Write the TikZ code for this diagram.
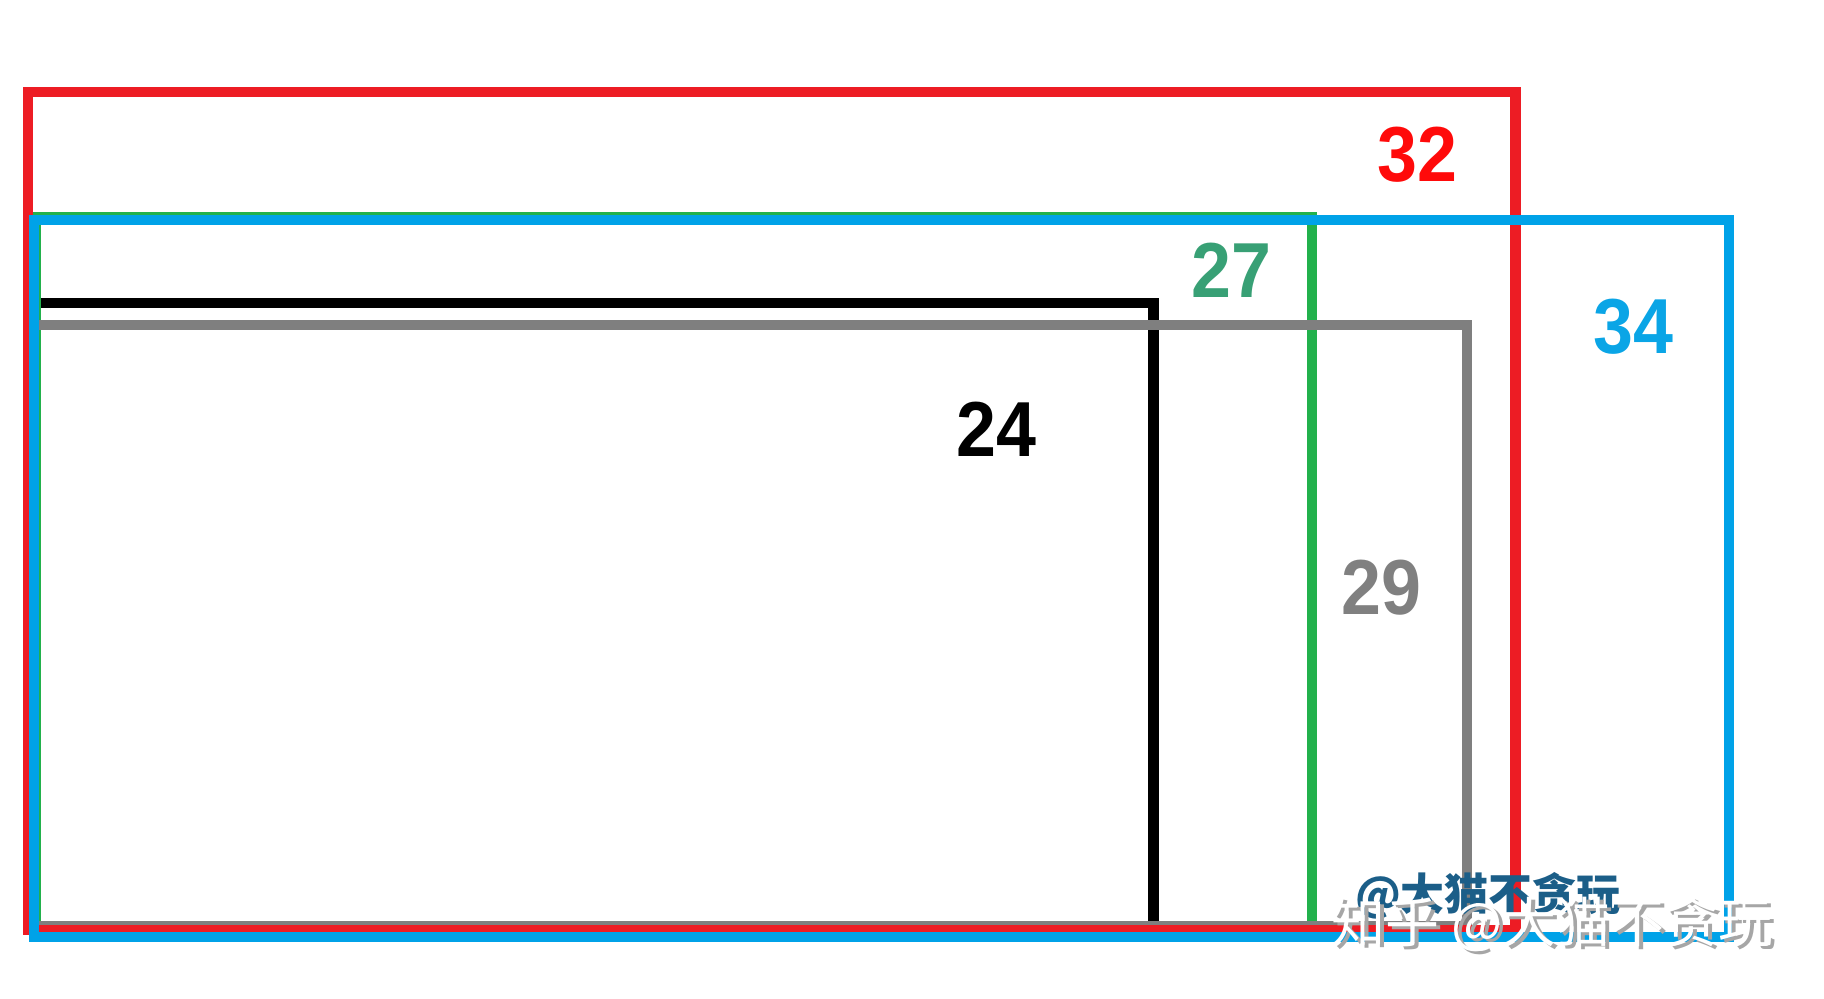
\documentclass[tikz,border=0pt]{standalone}
\usepackage{fontspec}
\setmainfont{Liberation Sans}
\newfontfamily\numfont[FakeStretch=0.92]{Liberation Sans}
\newfontfamily\cjk{Noto Sans CJK SC}
\usetikzlibrary{positioning}

\definecolor{framered}{HTML}{ED1C24}
\definecolor{frameblue}{HTML}{00A2E8}
\definecolor{framegreen}{HTML}{22B14C}
\definecolor{framegray}{HTML}{7F7F7F}
\definecolor{textred}{HTML}{FF0A0A}
\definecolor{textgreen}{HTML}{38A075}
\definecolor{textblue}{HTML}{0AA5E6}
\definecolor{textgray}{HTML}{808080}
\definecolor{markblue}{HTML}{1B5E88}

\begin{document}
\begin{tikzpicture}[
		x=0.5pt, y=-0.5pt,
		frame/.style={
				draw=#1,
				line width=5.25pt,
				line join=miter
			},
		frame/.default=black,
		size/.style={
				text=#1,
				inner sep=0pt,
				font=\numfont\bfseries\fontsize{39}{39}\selectfont
			},
		size/.default=black,
		watermark/.style={inner sep=0pt}
	]

	\useasboundingbox (0,0) rectangle (1824,999);

	% the five screen outlines, smallest first
	\draw[frame] (34,303) rectangle (1153.5,926);
	\draw[frame=framegreen] (36,217) rectangle (1312,926);
	\draw[frame=framegray] (34,325) rectangle (1467,926);
	\draw[frame=framered] (28,92) rectangle (1515.5,930);
	\draw[frame=frameblue] (34,220) rectangle (1729,937);

	% sizes
	\node[size=textred] (size32) at (1417,155) {32};
	\node[size=textgreen] (size27) at (1231,270) {27};
	\node[size=textblue] (size34) at (1633,327) {34};
	\node[size] (size24) at (996,429) {24};
	\node[size=textgray] (size29) at (1381,588) {29};

	% watermarks
	\node[watermark, text=markblue, font=\cjk\bfseries\fontsize{22}{22}\selectfont] (author) at (1488,896) {@大猫不贪玩};
	\node[watermark, text=black!35, font=\cjk\fontsize{27}{27}\selectfont] (zhihushadow) at (1556,927) {知乎 @大猫不贪玩};
	\node[watermark, text=white, font=\cjk\fontsize{27}{27}\selectfont] (zhihu) at (1552,924) {知乎 @大猫不贪玩};
\end{tikzpicture}
\end{document}
